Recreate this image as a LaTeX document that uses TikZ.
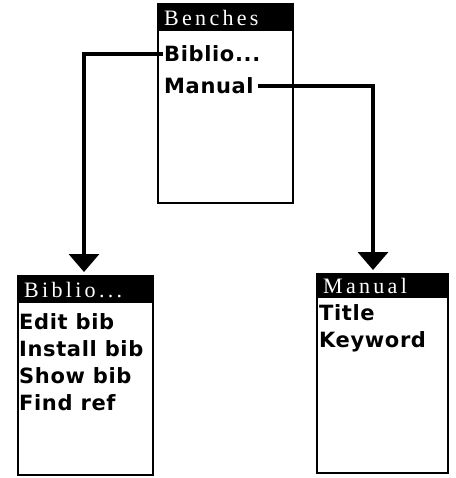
\documentclass[tikz,border=0pt]{standalone}
\usepackage{fontspec}
\newfontfamily\itemfont[LetterSpace=3]{DejaVu Sans}
\newfontfamily\titlefont[LetterSpace=15]{Liberation Serif}
\usetikzlibrary{arrows.meta}

\tikzset{
  menubox/.style={draw=black,line width=2.5pt,fill=white},
  titletext/.style={anchor=west,text=white,font=\titlefont\fontsize{22}{22}\selectfont,inner sep=0pt},
  menuitem/.style={anchor=west,inner sep=1pt,font=\itemfont\bfseries\fontsize{21}{21}\selectfont},
  link/.style={line width=3.5pt,-{Triangle[width=30pt,length=18pt]}}
}

\begin{document}
\begin{tikzpicture}[x=1pt,y=-1pt]
  \useasboundingbox (0,0) rectangle (455,478);
  % top menu
  \draw[menubox] (158,4) rectangle (293,203);
  \fill (158,4) rectangle (293,31);
  \node[titletext] (benches) at (164,18) {Benches};
  \node[menuitem] (biblioItem) at (163,54) {Biblio...};
  \node[menuitem] (manualItem) at (163,86) {Manual};
  % left menu
  \draw[menubox] (18,276) rectangle (153,475);
  \fill (18,276) rectangle (153,303);
  \node[titletext] (biblioTitle) at (24,290) {Biblio...};
  \node[menuitem] (editItem) at (18,322) {Edit bib};
  \node[menuitem] (installItem) at (18,349) {Install bib};
  \node[menuitem] (showItem) at (18,376) {Show bib};
  \node[menuitem] (findItem) at (18,403) {Find ref};
  % right menu
  \draw[menubox] (317,274) rectangle (448,473);
  \fill (317,274) rectangle (448,298);
  \node[titletext] (manualTitle) at (323,286) {Manual};
  \node[menuitem] (titleItem) at (318,313) {Title};
  \node[menuitem] (keywordItem) at (318,342) {Keyword};
  % connectors
  \coordinate (bibTurn) at (84,54);
  \coordinate (bibEnd) at (85,272);
  \coordinate (manTurn) at (373,86);
  \coordinate (manEnd) at (373,270);
  \draw[link] (biblioItem.west) -- (bibTurn) -- (bibTurn |- bibEnd);
  \draw[link] (manualItem.east) ++(3,0) -- (manTurn) -- (manEnd);
\end{tikzpicture}
\end{document}
